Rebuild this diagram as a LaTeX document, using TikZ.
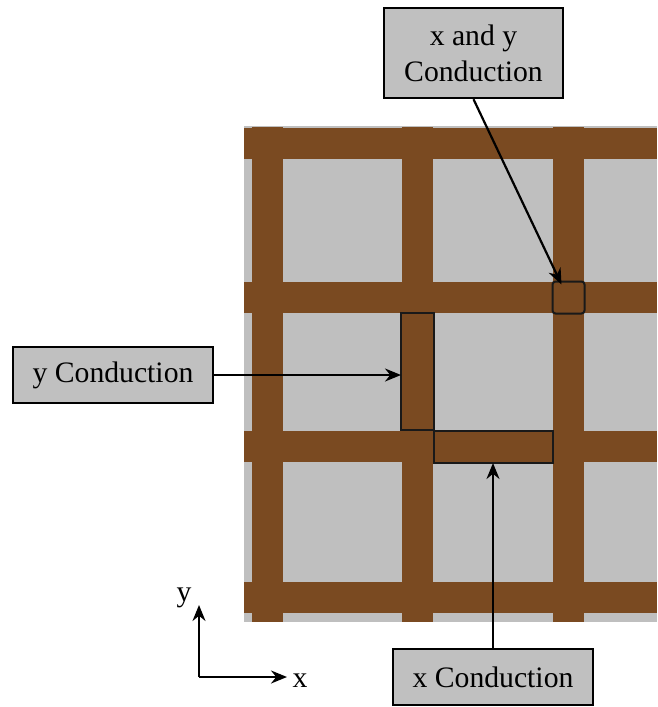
\documentclass[tikz,border=0pt]{standalone}
\usepackage{fontspec}
\setmainfont{Liberation Serif}
\usetikzlibrary{arrows.meta, calc, positioning}

\definecolor{copper}{RGB}{122,74,33}
\definecolor{cellgray}{RGB}{191,191,191}
\definecolor{boxgray}{RGB}{192,192,192}

\begin{document}
\begin{tikzpicture}[x=1pt, y=-1pt,
    callout/.style={draw=black, fill=boxgray, line width=2.4pt, inner sep=0pt, minimum width=200pt, minimum height=56pt, align=center, font=\fontsize{29.7}{36}\selectfont},
    hilite/.style={draw=black!90, line width=2pt, inner sep=0pt, outer sep=0pt},
    conn/.style={line width=2.2pt, -{Stealth[length=16pt, width=13pt]}}]
        \useasboundingbox (0,0) rectangle (657,707);

        % Region fills
        \fill[cellgray] (244,126) rectangle (657,622);
        \foreach \bx in {252,402,553}
            \fill[copper] (\bx,127) rectangle ++(31,495);
        \foreach \by in {128,282,431,582}
            \fill[copper] (244,\by) rectangle ++(413,31);

        % Highlighted pieces
        \node[hilite, minimum width=33pt, minimum height=117pt] (ybar) at (417.5,371.5) {};
        \node[hilite, minimum width=119pt, minimum height=32pt] (xbar) at (493.5,447) {};
        \node[hilite, rounded corners=3pt, minimum width=32pt, minimum height=32pt] (xycell) at (568.5,297.5) {};

        % Nodes
        \node[callout, minimum width=179pt, minimum height=90pt] (xybox) at (473.5,53) {x and y\\Conduction};
        \node[callout] (ybox) at (113,375) {y Conduction};
        \node[callout] (xbox) at (493,677) {x Conduction};

        % Paths
        \draw[conn] (xybox.south) -- ([xshift=9pt, yshift=-3pt]xycell.north west);
        \draw[conn] (ybox.east) -- (ybox.east -| ybar.west);
        \draw[conn] (xbox.north) -- (xbox.north |- xbar.south);

        % Axes
        \coordinate (orig) at (199,677);
        \coordinate (xend) at (287,677);
        \coordinate (yend) at (199,605);
        \draw[conn] (orig) -- (xend);
        \draw[conn] (orig) -- (yend);
        \node[font=\fontsize{29.7}{36}\selectfont] (xlab) at (300,681) {x};
        \node[font=\fontsize{29.7}{36}\selectfont] (ylab) at (184,598) {y};
    \end{tikzpicture}
\end{document}
